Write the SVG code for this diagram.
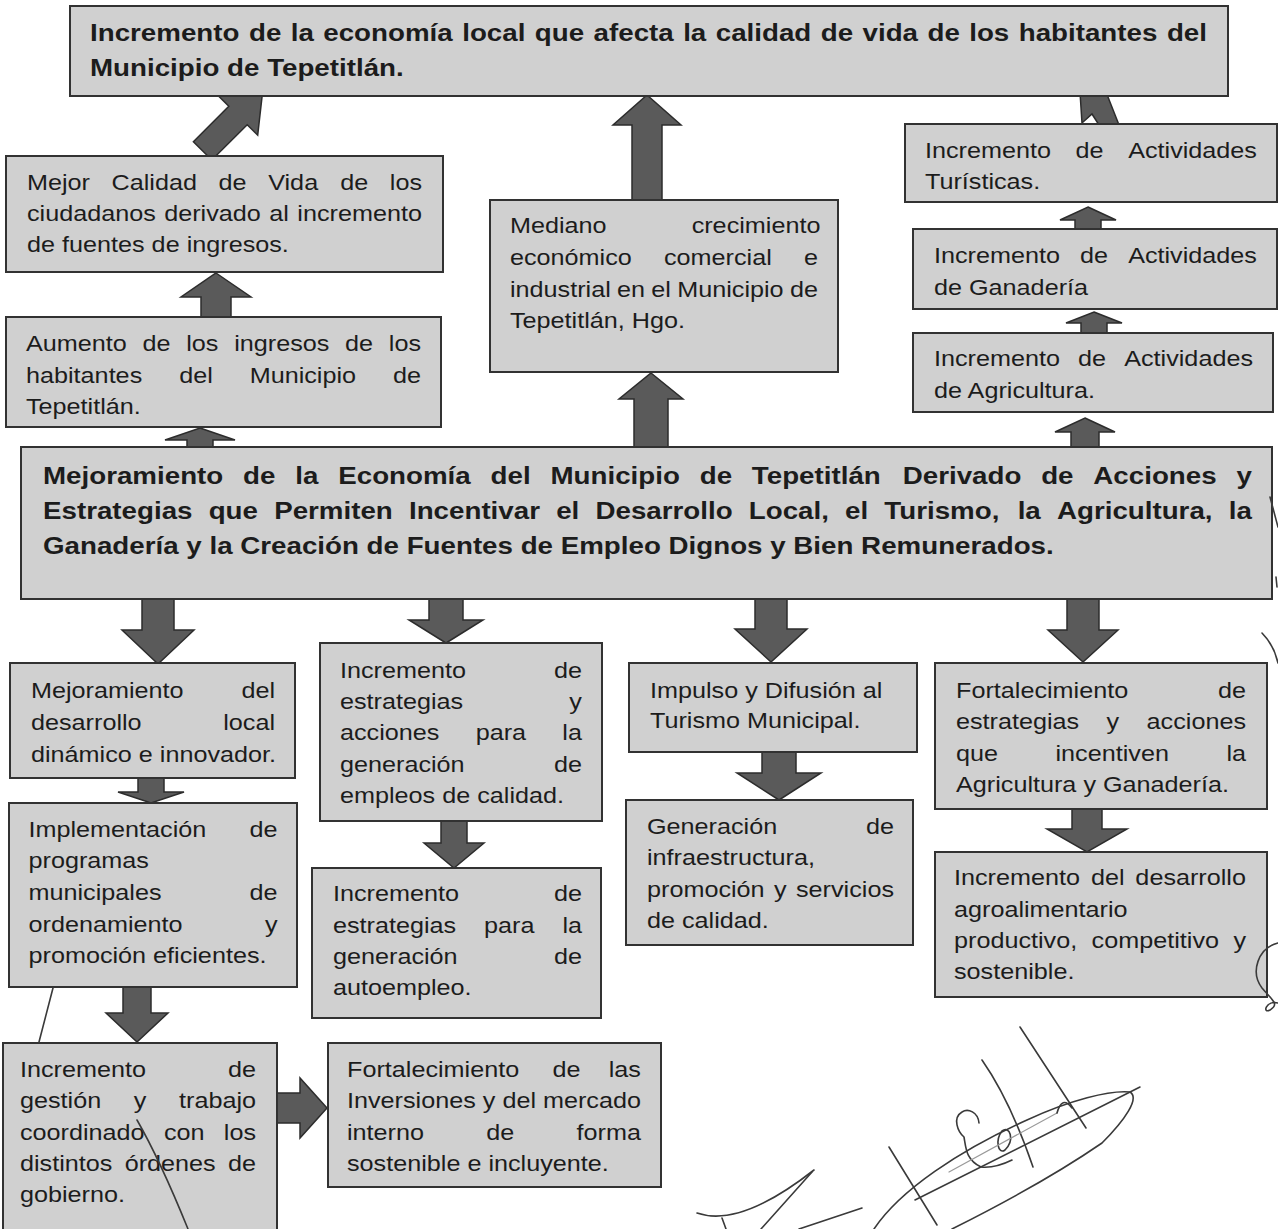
<svg xmlns="http://www.w3.org/2000/svg" width="1278" height="1229" viewBox="0 0 1278 1229">
<style>
.box{fill:#d0d0d0;stroke:#323232;stroke-width:2}
.t{font-family:"Liberation Sans",Arial,sans-serif;font-size:21.8px;fill:#1c1c1c}
.b{font-family:"Liberation Sans",Arial,sans-serif;font-size:24px;font-weight:bold;fill:#1c1c1c}
.arr{fill:#5a5a5a;stroke:#2c2c2c;stroke-width:1.5;stroke-linejoin:miter}
.ink{fill:none;stroke:#3a3a3a;stroke-width:1.6;stroke-linecap:round;stroke-linejoin:round}
.ink2{fill:none;stroke:#9a9a9a;stroke-width:1.2;stroke-linecap:round}
</style>
<rect width="1278" height="1229" fill="#ffffff"/>

<g id="connectors">
  <!-- diagonal arrow Mejor Calidad -> top -->
  <polygon class="arr" points="262.7,90.8 257.7,135.2 247.2,124.7 211.8,160 193.4,141.7 228.8,106.3 218.3,95.8"/>
  <!-- Aumento -> Mejor Calidad -->
  <polygon class="arr" points="216,273 251,297 231,297 231,318 201,318 201,297 181,297"/>
  <!-- central -> Aumento -->
  <polygon class="arr" points="200,428 235,440 213,440 213,449 187,449 187,440 165,440"/>
  <!-- Mediano -> top -->
  <polygon class="arr" points="647,95 681,125 662,125 662,201 632,201 632,125 613,125"/>
  <!-- central -> Mediano -->
  <polygon class="arr" points="651,373 683,399 668,399 668,448 634,448 634,399 619,399"/>
  <!-- Turisticas -> top (tilted stub) -->
  <polygon class="arr" points="1080,92 1106,92 1119,125 1099,125 1092,114 1082,123"/>
  <!-- Ganaderia -> Turisticas -->
  <polygon class="arr" points="1088,207 1116,220 1101,220 1101,230 1075,230 1075,220 1060,220"/>
  <!-- Agricultura -> Ganaderia -->
  <polygon class="arr" points="1094,312 1122,323 1107,323 1107,334 1081,334 1081,323 1066,323"/>
  <!-- central -> Agricultura -->
  <polygon class="arr" points="1085,418 1115,432 1099,432 1099,448 1071,448 1071,432 1055,432"/>
  <!-- central -> four columns -->
  <polygon class="arr" points="142,598 174,598 174,630 194,630 158,664 122,630 142,630"/>
  <polygon class="arr" points="429,598 463,598 463,620 483,620 446,643 409,620 429,620"/>
  <polygon class="arr" points="755,598 787,598 787,629 807,629 771,662 735,629 755,629"/>
  <polygon class="arr" points="1067,598 1099,598 1099,630 1118,630 1083,662 1048,630 1067,630"/>
  <!-- secondary -->
  <polygon class="arr" points="138,777 164,777 164,792 184,792 151,803 118,792 138,792"/>
  <polygon class="arr" points="123,986 151,986 151,1013 168,1013 137,1042 106,1013 123,1013"/>
  <polygon class="arr" points="441,820 467,820 467,843 484,843 454,868 424,843 441,843"/>
  <polygon class="arr" points="762,752 796,752 796,773 821,773 779,800 737,773 762,773"/>
  <polygon class="arr" points="1072,808 1102,808 1102,829 1127,829 1087,852 1047,829 1072,829"/>
  <!-- Incremento de gestion -> Fortalecimiento de las Inversiones -->
  <polygon class="arr" points="276,1093 300,1093 300,1078 327,1108 300,1138 300,1123 276,1123"/>
</g>

<g id="n-top">
  <rect class="box" x="70" y="6" width="1158" height="90"/>
  <g transform="translate(90 0) scale(1.156 1)">
    <text class="b" y="41"><tspan x="0">Incremento</tspan><tspan x="137.5">de</tspan><tspan x="173.65">la</tspan><tspan x="201.81">economía</tspan><tspan x="321.98">local</tspan><tspan x="384.82">que</tspan><tspan x="435.63">afecta</tspan><tspan x="513.13">la</tspan><tspan x="541.29">calidad</tspan><tspan x="632.13">de</tspan><tspan x="668.28">vida</tspan><tspan x="724.44">de</tspan><tspan x="760.59">los</tspan><tspan x="803.41">habitantes</tspan><tspan x="931.57">del</tspan></text>
    <text class="b" x="0" y="76">Municipio de Tepetitlán.</text>
  </g>
</g>

<g id="n-calidad">
  <rect class="box" x="6" y="156" width="437" height="116"/>
  <g transform="translate(27 0) scale(1.156 1)">
    <text class="t" y="190"><tspan x="0">Mejor</tspan><tspan x="73.17">Calidad</tspan><tspan x="165.74">de</tspan><tspan x="208.65">Vida</tspan><tspan x="270.94">de</tspan><tspan x="313.85">los</tspan></text>
    <text class="t" y="221"><tspan x="0">ciudadanos</tspan><tspan x="118.7">derivado</tspan><tspan x="209.6">al</tspan><tspan x="233.86">incremento</tspan></text>
    <text class="t" x="0" y="252">de fuentes de ingresos.</text>
  </g>
</g>

<g id="n-aumento">
  <rect class="box" x="6" y="317" width="435" height="110"/>
  <g transform="translate(26 0) scale(1.156 1)">
    <text class="t" y="351"><tspan x="0">Aumento</tspan><tspan x="100.82">de</tspan><tspan x="138.64">los</tspan><tspan x="180.08">ingresos</tspan><tspan x="276.04">de</tspan><tspan x="313.86">los</tspan></text>
    <text class="t" y="383"><tspan x="0">habitantes</tspan><tspan x="132.5">del</tspan><tspan x="193.49">Municipio</tspan><tspan x="317.46">de</tspan></text>
    <text class="t" x="0" y="414">Tepetitlán.</text>
  </g>
</g>

<g id="n-mediano">
  <rect class="box" x="490" y="200" width="348" height="172"/>
  <g transform="translate(510 0) scale(1.156 1)">
    <text class="t" y="233"><tspan x="0">Mediano</tspan><tspan x="157.14">crecimiento</tspan></text>
    <text class="t" y="265"><tspan x="0">económico</tspan><tspan x="133.21">comercial</tspan><tspan x="254.28">e</tspan></text>
    <text class="t" y="297"><tspan x="0">industrial</tspan><tspan x="92.64">en</tspan><tspan x="122.3">el</tspan><tspan x="144.68">Municipio</tspan><tspan x="242.16">de</tspan></text>
    <text class="t" x="0" y="328">Tepetitlán, Hgo.</text>
  </g>
</g>

<g id="n-turisticas">
  <rect class="box" x="905" y="124" width="372" height="78"/>
  <g transform="translate(925 0) scale(1.156 1)">
    <text class="t" y="158"><tspan x="0">Incremento</tspan><tspan x="130.27">de</tspan><tspan x="175.74">Actividades</tspan></text>
    <text class="t" x="0" y="189">Turísticas.</text>
  </g>
</g>

<g id="n-ganaderia">
  <rect class="box" x="913" y="229" width="364" height="80"/>
  <g transform="translate(934 0) scale(1.156 1)">
    <text class="t" y="263"><tspan x="0">Incremento</tspan><tspan x="126.37">de</tspan><tspan x="167.94">Actividades</tspan></text>
    <text class="t" x="0" y="295">de Ganadería</text>
  </g>
</g>

<g id="n-agricultura">
  <rect class="box" x="913" y="333" width="360" height="79"/>
  <g transform="translate(934 0) scale(1.156 1)">
    <text class="t" y="366"><tspan x="0">Incremento</tspan><tspan x="124.67">de</tspan><tspan x="164.54">Actividades</tspan></text>
    <text class="t" x="0" y="398">de Agricultura.</text>
  </g>
</g>

<g id="n-central">
  <rect class="box" x="21" y="447" width="1251" height="152"/>
  <g transform="translate(43 0) scale(1.156 1)">
    <text class="b" y="484"><tspan x="0">Mejoramiento</tspan><tspan x="173.13">de</tspan><tspan x="218.25">la</tspan><tspan x="255.38">Economía</tspan><tspan x="387.19">del</tspan><tspan x="438.98">Municipio</tspan><tspan x="568.1">de</tspan><tspan x="613.22">Tepetitlán</tspan><tspan x="743.68">Derivado</tspan><tspan x="863.49">de</tspan><tspan x="908.61">Acciones</tspan><tspan x="1032.42">y</tspan></text>
    <text class="b" y="519"><tspan x="0">Estrategias</tspan><tspan x="143.33">que</tspan><tspan x="199.95">Permiten</tspan><tspan x="316.6">Incentivar</tspan><tspan x="443.93">el</tspan><tspan x="477.9">Desarrollo</tspan><tspan x="610.55">Local,</tspan><tspan x="693.86">el</tspan><tspan x="727.83">Turismo,</tspan><tspan x="843.13">la</tspan><tspan x="877.1">Agricultura,</tspan><tspan x="1025.74">la</tspan></text>
    <text class="b" x="0" y="554">Ganadería y la Creación de Fuentes de Empleo Dignos y Bien Remunerados.</text>
  </g>
</g>

<g id="n-desarrollo-local">
  <rect class="box" x="10" y="663" width="285" height="115"/>
  <g transform="translate(31 0) scale(1.156 1)">
    <text class="t" y="698"><tspan x="0">Mejoramiento</tspan><tspan x="182.02">del</tspan></text>
    <text class="t" y="730"><tspan x="0">desarrollo</tspan><tspan x="166.28">local</tspan></text>
    <text class="t" x="0" y="762">dinámico e innovador.</text>
  </g>
</g>

<g id="n-empleos">
  <rect class="box" x="320" y="643" width="282" height="178"/>
  <g transform="translate(340 0) scale(1.156 1)">
    <text class="t" y="678"><tspan x="0">Incremento</tspan><tspan x="185.06">de</tspan></text>
    <text class="t" y="709"><tspan x="0">estrategias</tspan><tspan x="198.4">y</tspan></text>
    <text class="t" y="740"><tspan x="0">acciones</tspan><tspan x="117.37">para</tspan><tspan x="192.34">la</tspan></text>
    <text class="t" y="772"><tspan x="0">generación</tspan><tspan x="185.06">de</tspan></text>
    <text class="t" x="0" y="803">empleos de calidad.</text>
  </g>
</g>

<g id="n-turismo">
  <rect class="box" x="629" y="663" width="288" height="89"/>
  <g transform="translate(650 0) scale(1.156 1)">
    <text class="t" x="0" y="698">Impulso y Difusión al</text>
    <text class="t" x="0" y="728">Turismo Municipal.</text>
  </g>
</g>

<g id="n-fortalecimiento-agro">
  <rect class="box" x="935" y="663" width="332" height="146"/>
  <g transform="translate(956 0) scale(1.156 1)">
    <text class="t" y="698"><tspan x="0">Fortalecimiento</tspan><tspan x="226.66">de</tspan></text>
    <text class="t" y="729"><tspan x="0">estrategias</tspan><tspan x="130.3">y</tspan><tspan x="164.88">acciones</tspan></text>
    <text class="t" y="761"><tspan x="0">que</tspan><tspan x="86.08">incentiven</tspan><tspan x="233.94">la</tspan></text>
    <text class="t" x="0" y="792">Agricultura y Ganadería.</text>
  </g>
</g>

<g id="n-implementacion">
  <rect class="box" x="9" y="803" width="288" height="184"/>
  <g transform="translate(28.5 0) scale(1.156 1)">
    <text class="t" y="837"><tspan x="0">Implementación</tspan><tspan x="191.16">de</tspan></text>
    <text class="t" x="0" y="868">programas</text>
    <text class="t" y="900"><tspan x="0">municipales</tspan><tspan x="191.16">de</tspan></text>
    <text class="t" y="932"><tspan x="0">ordenamiento</tspan><tspan x="204.5">y</tspan></text>
    <text class="t" x="0" y="963">promoción eficientes.</text>
  </g>
</g>

<g id="n-autoempleo">
  <rect class="box" x="312" y="868" width="289" height="150"/>
  <g transform="translate(333 0) scale(1.156 1)">
    <text class="t" y="901"><tspan x="0">Incremento</tspan><tspan x="191.16">de</tspan></text>
    <text class="t" y="933"><tspan x="0">estrategias</tspan><tspan x="130.72">para</tspan><tspan x="198.44">la</tspan></text>
    <text class="t" y="964"><tspan x="0">generación</tspan><tspan x="191.16">de</tspan></text>
    <text class="t" x="0" y="995">autoempleo.</text>
  </g>
</g>

<g id="n-infraestructura">
  <rect class="box" x="626" y="800" width="287" height="145"/>
  <g transform="translate(647 0) scale(1.156 1)">
    <text class="t" y="834"><tspan x="0">Generación</tspan><tspan x="189.46">de</tspan></text>
    <text class="t" x="0" y="865">infraestructura,</text>
    <text class="t" y="897"><tspan x="0">promoción</tspan><tspan x="109.89">y</tspan><tspan x="128.92">servicios</tspan></text>
    <text class="t" x="0" y="928">de calidad.</text>
  </g>
</g>

<g id="n-agroalimentario">
  <rect class="box" x="935" y="852" width="332" height="145"/>
  <g transform="translate(954 0) scale(1.156 1)">
    <text class="t" y="885"><tspan x="0">Incremento</tspan><tspan x="118.43">del</tspan><tspan x="156.9">desarrollo</tspan></text>
    <text class="t" x="0" y="917">agroalimentario</text>
    <text class="t" y="948"><tspan x="0">productivo,</tspan><tspan x="119.04">competitivo</tspan><tspan x="241.7">y</tspan></text>
    <text class="t" x="0" y="979">sostenible.</text>
  </g>
</g>

<g id="n-gestion">
  <rect class="box" x="3" y="1043" width="274" height="187"/>
  <g transform="translate(20 0) scale(1.156 1)">
    <text class="t" y="1077"><tspan x="0">Incremento</tspan><tspan x="179.96">de</tspan></text>
    <text class="t" y="1108"><tspan x="0">gestión</tspan><tspan x="98.47">y</tspan><tspan x="137.56">trabajo</tspan></text>
    <text class="t" y="1140"><tspan x="0">coordinado</tspan><tspan x="124.52">con</tspan><tspan x="176.34">los</tspan></text>
    <text class="t" y="1171"><tspan x="0">distintos</tspan><tspan x="90.58">órdenes</tspan><tspan x="179.96">de</tspan></text>
    <text class="t" x="0" y="1202">gobierno.</text>
  </g>
</g>

<g id="n-inversiones">
  <rect class="box" x="328" y="1043" width="333" height="144"/>
  <g transform="translate(347 0) scale(1.156 1)">
    <text class="t" y="1077"><tspan x="0">Fortalecimiento</tspan><tspan x="177.78">de</tspan><tspan x="226.44">las</tspan></text>
    <text class="t" x="0" y="1108">Inversiones y del mercado</text>
    <text class="t" y="1140"><tspan x="0">interno</tspan><tspan x="120.49">de</tspan><tspan x="198.58">forma</tspan></text>
    <text class="t" x="0" y="1171">sostenible e incluyente.</text>
  </g>
</g>

<g id="handwriting">
  <path class="ink" d="M53,988 L39,1042"/>
  <path class="ink" d="M137,1120 Q160,1160 188,1229"/>
  <path class="ink" d="M697,1213 Q740,1228 814,1170"/>
  <path class="ink" d="M812,1172 L761,1229"/>
  <path class="ink" d="M722,1218 L726,1229"/>
  <path class="ink" d="M799,1229 L862,1208"/>
  <path class="ink" d="M874,1229 C900,1190 960,1150 1027,1120 C1070,1100 1110,1090 1130,1092 C1140,1098 1125,1120 1102,1143 C1070,1165 1020,1195 952,1229"/>
  <path class="ink" d="M915,1200 L1140,1087"/>
  <path class="ink" d="M889,1147 L937,1225"/>
  <path class="ink" d="M982,1060 Q1010,1100 1033,1167"/>
  <path class="ink" d="M1020,1027 L1086,1128"/>
  <path class="ink" d="M979,1123 C978,1112 968,1108 962,1112 C952,1118 958,1132 964,1137 C966,1148 966,1160 981,1167 C992,1168 1004,1164 1012,1160"/>
  <path class="ink" d="M1002,1131 C1010,1125 1015,1140 1005,1150 C998,1155 995,1140 1002,1131"/>
  <path class="ink2" d="M949,1172 L1057,1113"/>
  <path class="ink" d="M1057,1113 Q1062,1095 1072,1108"/>
  <path class="ink" d="M1278,943 C1258,948 1250,972 1262,988 C1272,1000 1280,1004 1270,1010 C1262,1014 1266,1000 1278,1003"/>
  <path class="ink" d="M1270,497 L1278,527"/>
  <path class="ink" d="M1262,633 Q1274,645 1278,663"/>
  <path class="ink" d="M1276,577 L1277,587"/>
</g>
</svg>
